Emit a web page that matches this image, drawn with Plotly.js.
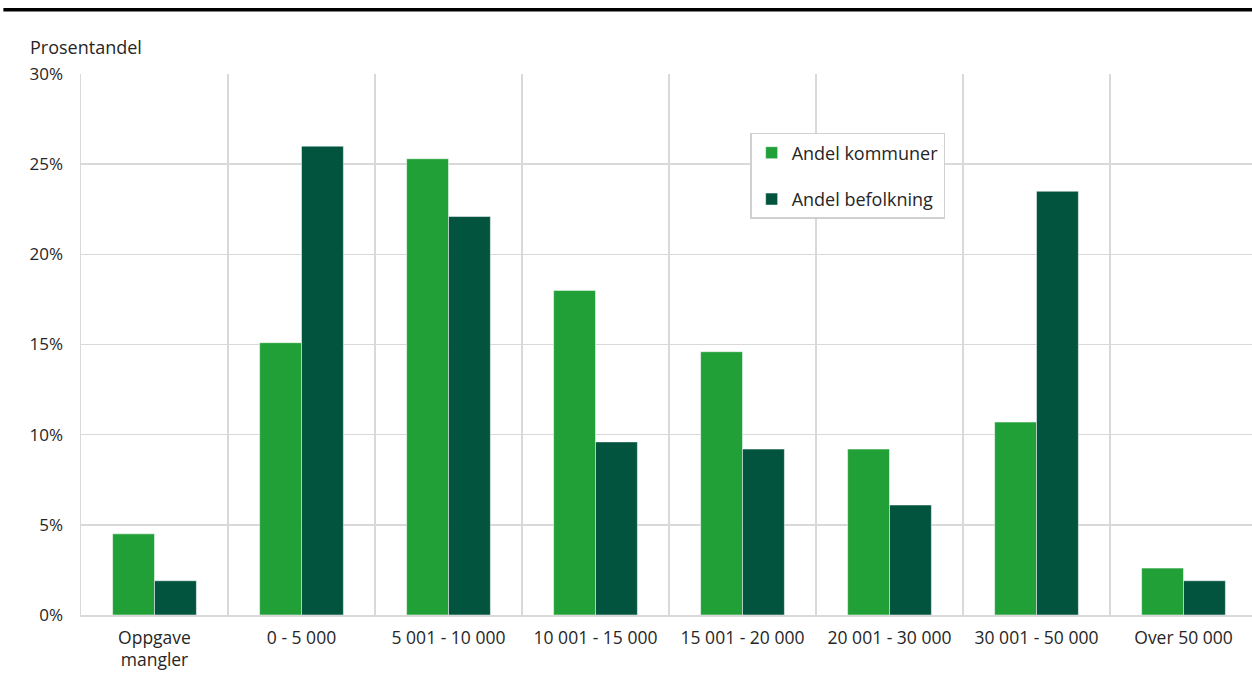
<!DOCTYPE html>
<html>
<head>
<meta charset="utf-8">
<script src="https://cdn.plot.ly/plotly-3.0.1.min.js"></script>
<style>
html,body{margin:0;padding:0;overflow:hidden;background:#fff;}
#chart{width:1257px;height:686px;}
</style>
</head>
<body>
<div id="chart"></div>
<script>
var categories = ["Oppgave<br>mangler", "0 - 5 000", "5 001 - 10 000", "10 001 - 15 000", "15 001 - 20 000", "20 001 - 30 000", "30 001 - 50 000", "Over 50 000"];
var andelKommuner = [4.5, 15.1, 25.3, 18.0, 14.6, 9.2, 10.7, 2.6];
var andelBefolkning = [1.9, 26.0, 22.1, 9.6, 9.2, 6.1, 23.5, 1.9];
var tickVals = [0, 5, 10, 15, 20, 25, 30];
var tickText = ["0%", "5%", "10%", "15%", "20%", "25%", "30%"];

var fontFam = "Open Sans, sans-serif";
var traces = [
  {type: "bar", name: "Andel kommuner", x: categories, y: andelKommuner, legendgroup: "a",
   marker: {color: "#22a038", line: {color: "rgba(255,255,255,0.5)", width: 1}}, hoverinfo: "x+y"},
  {type: "bar", name: "Andel befolkning", x: categories, y: andelBefolkning, legendgroup: "b",
   marker: {color: "#02543f", line: {color: "rgba(255,255,255,0.5)", width: 1}}, hoverinfo: "x+y"}
];

var layout = {
  width: 1257, height: 686,
  margin: {l: 81, r: 0, t: 74, b: 71},
  paper_bgcolor: "#fff", plot_bgcolor: "#fff",
  font: {family: fontFam, size: 17, color: "#262626"},
  barmode: "group", bargap: 0.43, bargroupgap: 0,
  xaxis: {
    type: "category", tickson: "boundaries", showgrid: true, gridcolor: "#d9d9d9", gridwidth: 1.5,
    showline: true, linecolor: "#d9d9d9", linewidth: 1.5, ticks: "", ticklen: 0, ticklabelstandoff: 6,
    tickfont: {family: fontFam, size: 17.5, color: "#262626"}, automargin: false
  },
  yaxis: {
    range: [0, 30], tickvals: tickVals, ticktext: tickText, showgrid: true, gridcolor: "#d9d9d9", gridwidth: 1.5,
    showline: true, linecolor: "#d9d9d9", linewidth: 1.5, zeroline: false, ticks: "", ticklabelstandoff: 13,
    tickfont: {family: fontFam, size: 17, color: "#262626"}, automargin: false
  },
  showlegend: true,
  legend: {
    x: 0.569, y: 0.891, xanchor: "left", yanchor: "top",
    bgcolor: "#fff", bordercolor: "#d0d0d0", borderwidth: 1.5,
    font: {family: fontFam, size: 18, color: "#262626"},
    tracegroupgap: 20, traceorder: "grouped", itemwidth: 30
  },
  annotations: [
    {text: "Prosentandel", xref: "paper", yref: "paper", x: -0.045, y: 1.05, xanchor: "left", yanchor: "middle",
     showarrow: false, font: {family: fontFam, size: 18, color: "#262626"}}
  ],
  shapes: [
    {type: "line", xref: "paper", yref: "paper", x0: -0.066, x1: 1.0, y0: 1.1189, y1: 1.1189,
     line: {color: "#000", width: 3.5}}
  ]
};

Plotly.newPlot("chart", traces, layout, {displayModeBar: false, staticPlot: true});
</script>
</body>
</html>
